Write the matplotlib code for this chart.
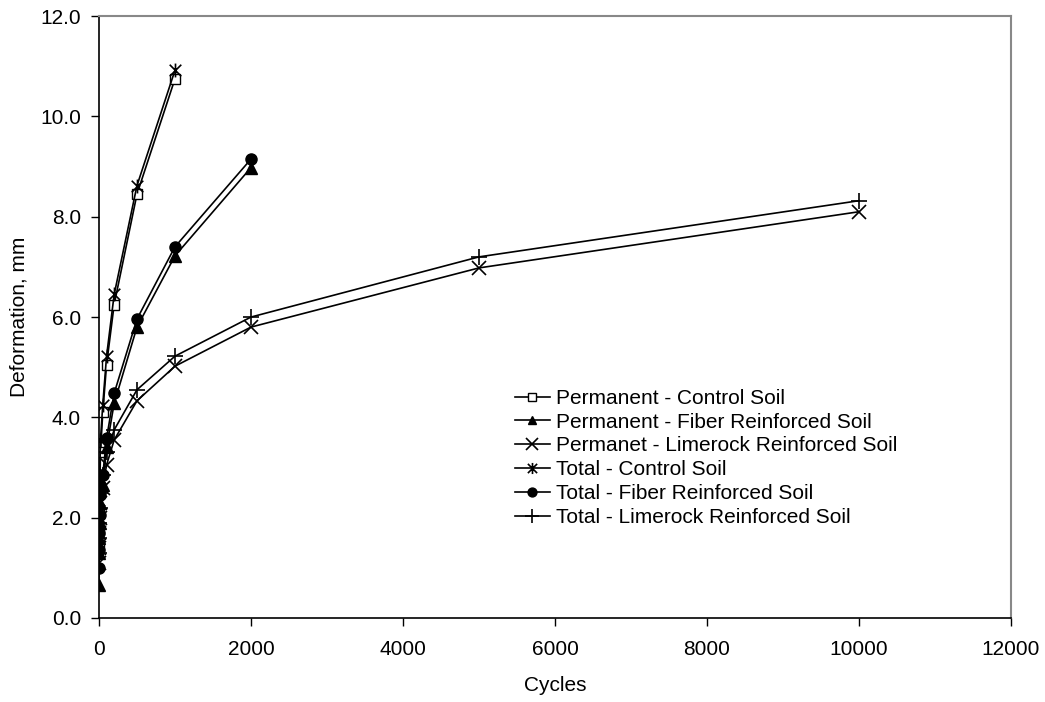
import matplotlib
matplotlib.use("Agg")
from matplotlib import pyplot as plt
from matplotlib.path import Path
from matplotlib.ticker import FormatStrFormatter

plt.rcParams['font.family'] = ['Liberation Sans', 'DejaVu Sans']

# cycles for each soil
cycles_ctrl = [1, 2, 5, 10, 20, 50, 100, 200, 500, 1000]
cycles_fiber = [1, 2, 5, 10, 20, 50, 100, 200, 500, 1000, 2000]
cycles_lime = [1, 2, 5, 10, 20, 50, 100, 200, 500, 1000, 2000, 5000, 10000]

# deformation, mm
perm_ctrl = [1.45, 1.75, 2.1, 2.5, 3.3, 4.1, 5.05, 6.25, 8.45, 10.75]
perm_fiber = [0.65, 1.3, 1.6, 1.9, 2.3, 2.65, 3.4, 4.28, 5.8, 7.22, 8.98]
perm_lime = [1.1, 1.4, 1.7, 2.0, 2.3, 2.6, 3.05, 3.55, 4.33, 5.02, 5.8, 6.98, 8.1]
total_ctrl = [1.7, 2.0, 2.35, 2.8, 3.55, 4.25, 5.22, 6.45, 8.62, 10.92]
total_fiber = [1.0, 1.35, 1.7, 2.05, 2.45, 2.85, 3.58, 4.48, 5.96, 7.4, 9.15]
total_lime = [1.3, 1.6, 1.9, 2.2, 2.5, 2.85, 3.3, 3.75, 4.55, 5.22, 6.0, 7.2, 8.32]

labels = ["Permanent - Control Soil", "Permanent - Fiber Reinforced Soil",
          "Permanet - Limerock Reinforced Soil", "Total - Control Soil",
          "Total - Fiber Reinforced Soil", "Total - Limerock Reinforced Soil"]

# x with a vertical bar, like the excel star marker
star = Path([(-1, -1), (1, 1), (-1, 1), (1, -1), (0, -1.2), (0, 1.2)],
            [Path.MOVETO, Path.LINETO, Path.MOVETO, Path.LINETO, Path.MOVETO, Path.LINETO])

fig = plt.figure(figsize=(10.45, 7.02), dpi=100)
ax = fig.add_axes([0.0947, 0.1197, 0.8728, 0.8573])

kw = dict(color='black', lw=1.2)
ax.plot(cycles_ctrl, perm_ctrl, marker='s', ms=7.5, mfc='white', mec='black', label=labels[0], **kw)
ax.plot(cycles_fiber, perm_fiber, marker='^', ms=8, mfc='black', mec='black', label=labels[1], **kw)
ax.plot(cycles_lime, perm_lime, marker='x', ms=10, mew=1.2, label=labels[2], **kw)
ax.plot(cycles_ctrl, total_ctrl, marker=star, ms=10, mew=1.2, label=labels[3], **kw)
ax.plot(cycles_fiber, total_fiber, marker='o', ms=8, mfc='black', mec='black', label=labels[4], **kw)
ax.plot(cycles_lime, total_lime, marker='+', ms=12, mew=1.2, label=labels[5], **kw)

ax.set_xlim(0, 12000)
ax.set_ylim(0, 12)
ax.set_xticks(range(0, 12001, 2000))
ax.set_yticks([0, 2, 4, 6, 8, 10, 12])
ax.yaxis.set_major_formatter(FormatStrFormatter('%.1f'))
ax.tick_params(direction='out', length=6, width=1, labelsize=15, pad=7)
ax.tick_params(axis='x', pad=10)

for s in ['top', 'right']:
    ax.spines[s].set_color('#888888')
    ax.spines[s].set_linewidth(1.5)
for s in ['left', 'bottom']:
    ax.spines[s].set_linewidth(1.2)

ax.set_xlabel("Cycles", fontsize=15, labelpad=12)
ax.set_ylabel("Deformation, mm", fontsize=15, labelpad=8)

leg = ax.legend(loc='upper left', bbox_to_anchor=(0.445, 0.398), frameon=False, fontsize=15,
                handlelength=1.65, handletextpad=0.3, labelspacing=0.23, borderpad=0,
                markerscale=0.8)

fig.savefig("out.png", dpi=100)
